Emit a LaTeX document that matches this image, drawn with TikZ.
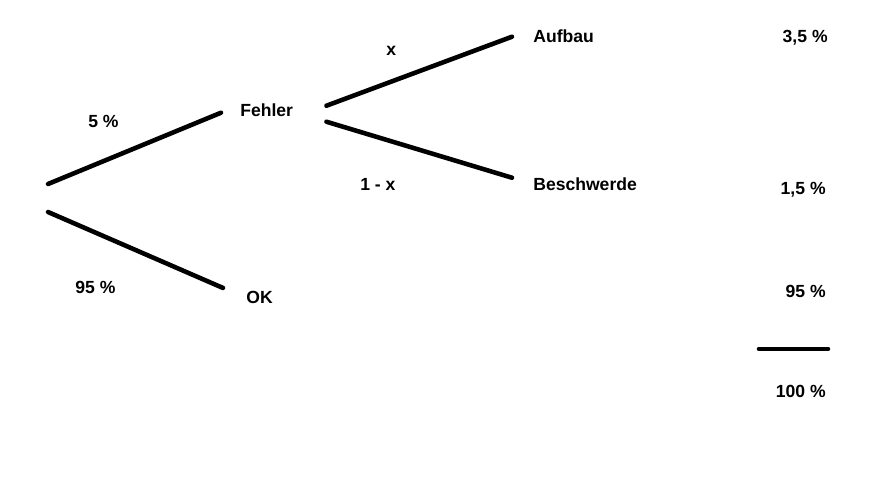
\documentclass[tikz,border=0pt]{standalone}
\usepackage{fontspec}
\setmainfont{Liberation Sans}
\usepackage{tikz}
\usetikzlibrary{
	positioning,
	calc
}

\begin{document}
\begin{tikzpicture}[
		x=0.02cm,
		y=-0.02cm,
		font=\fontsize{10}{12}\selectfont\bfseries,
		branch/.style={
			line width=2.6pt,
			line cap=round
		},
		label/.style={
			inner sep=0pt,
			anchor=base west
		},
		share/.style={
			inner sep=0pt,
			anchor=base east
		}
		]
		\useasboundingbox (0,0) rectangle (880,504);
		
		% Root
		\coordinate (root) at (48,198);
		
		% First stage
		\node[label] (fehler) at (240,116) {Fehler};
		\node[label] (ok) at (246,303) {OK};
		\node[label] (p-fehler) at (88,127) {5 \%};
		\node[label] (p-ok) at (75,293) {95 \%};
		
		% Second stage
		\node[label] (aufbau) at (533,42) {Aufbau};
		\node[label] (beschwerde) at (533,190) {Beschwerde};
		\node[label] (p-aufbau) at (386,55) {x};
		\node[label] (p-beschwerde) at (360,190) {1 - x};
		
		% Totals
		\node[share] (t-aufbau) at (828,42) {3,5 \%};
		\node[share] (t-beschwerde) at (826,194) {1,5 \%};
		\node[share] (t-ok) at (826,297) {95 \%};
		\node[share] (t-sum) at (826,397) {100 \%};
		\coordinate (sum-left) at (759,349);
		\coordinate (sum-right) at (828,349);
		
		\draw[branch] ([shift={(0,-14)}]root) -- ([shift={(-19,3)}]fehler.west);
		\draw[branch] ([shift={(0,14)}]root) -- ([shift={(-23,-9)}]ok.west);
		\draw[branch] ([shift={(33,-4)}]fehler.east) -- ([shift={(-21,1)}]aufbau.west);
		\draw[branch] ([shift={(33,12)}]fehler.east) -- ([shift={(-21,-6)}]beschwerde.west);
		\draw[branch] (sum-left) -- (sum-right);
		
	\end{tikzpicture}
\end{document}
